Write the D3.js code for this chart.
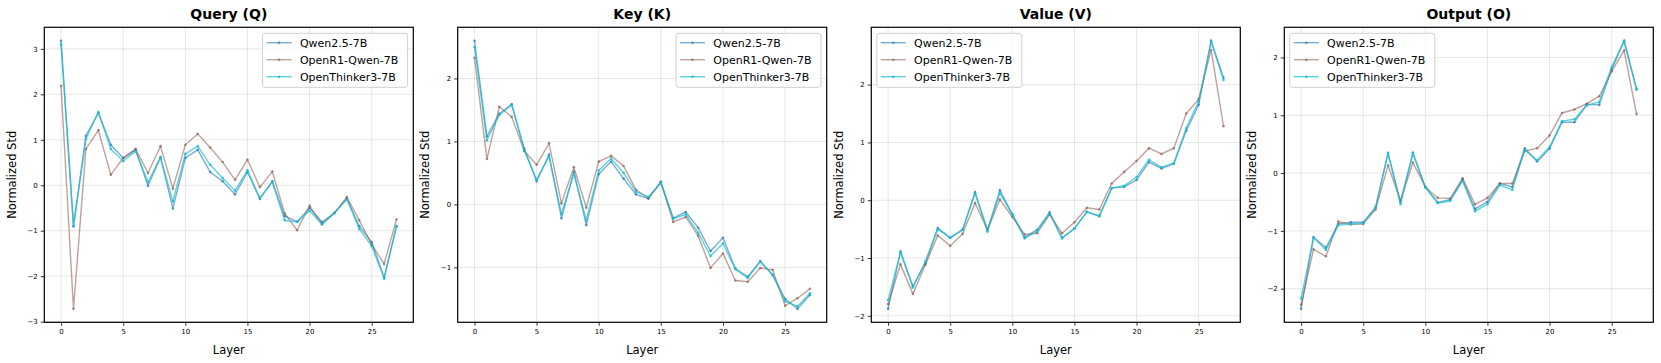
<!DOCTYPE html>
<html>
<head>
<meta charset="utf-8">
<script src="https://cdn.jsdelivr.net/npm/d3@7"></script>
<style>
  html, body { margin: 0; padding: 0; background: #fff; }
  svg { display: block; font-family: "DejaVu Sans", sans-serif; }
</style>
</head>
<body>
<div id="chart"></div>
<script>
// layer index 0..27
const layers = d3.range(28);

const seriesNames = ["Qwen2.5-7B", "OpenR1-Qwen-7B", "OpenThinker3-7B"];
const seriesColors = ["#1f77b4", "#8c564b", "#17becf"];
const seriesAlpha = [0.6, 0.55, 0.7];

const panelTitles = ["Query (Q)", "Key (K)", "Value (V)", "Output (O)"];
const legendSides = ["right", "right", "left", "left"];

// Query (Q)
const queryQwen = [3.18, -0.90, 1.09, 1.59, 0.89, 0.60, 0.78, -0.01, 0.61, -0.51, 0.60, 0.78, 0.29, 0.09, -0.20, 0.29, -0.30, 0.09, -0.68, -0.80, -0.50, -0.81, -0.61, -0.29, -0.90, -1.25, -2.03, -0.90];
const queryOpenR1 = [2.19, -2.72, 0.80, 1.21, 0.23, 0.60, 0.80, 0.27, 0.86, -0.07, 0.89, 1.13, 0.83, 0.51, 0.12, 0.56, -0.04, 0.30, -0.62, -0.99, -0.45, -0.86, -0.61, -0.26, -0.77, -1.30, -1.73, -0.75];
const queryThinker = [3.10, -0.90, 1.02, 1.61, 0.80, 0.53, 0.75, 0.07, 0.62, -0.35, 0.69, 0.86, 0.45, 0.16, -0.12, 0.33, -0.28, 0.07, -0.77, -0.81, -0.56, -0.86, -0.61, -0.31, -0.96, -1.34, -2.05, -0.90];

// Key (K)
const keyQwen = [2.60, 1.08, 1.44, 1.59, 0.89, 0.37, 0.79, -0.22, 0.52, -0.33, 0.48, 0.68, 0.41, 0.16, 0.09, 0.36, -0.22, -0.12, -0.37, -0.74, -0.53, -1.02, -1.15, -0.90, -1.12, -1.50, -1.66, -1.44];
const keyOpenR1 = [2.33, 0.72, 1.55, 1.39, 0.85, 0.63, 0.97, 0.02, 0.59, -0.05, 0.68, 0.77, 0.61, 0.23, 0.10, 0.35, -0.28, -0.20, -0.50, -1.01, -0.78, -1.21, -1.23, -1.01, -1.04, -1.61, -1.49, -1.34];
const keyThinker = [2.50, 1.02, 1.42, 1.58, 0.86, 0.39, 0.76, -0.15, 0.49, -0.25, 0.54, 0.73, 0.50, 0.20, 0.12, 0.34, -0.23, -0.16, -0.45, -0.82, -0.62, -1.03, -1.17, -0.91, -1.12, -1.54, -1.62, -1.41];

// Value (V)
const valueQwen = [-1.88, -0.89, -1.49, -1.09, -0.48, -0.65, -0.51, 0.14, -0.51, 0.17, -0.24, -0.64, -0.51, -0.21, -0.65, -0.49, -0.20, -0.27, 0.21, 0.23, 0.35, 0.66, 0.55, 0.63, 1.20, 1.65, 2.76, 2.12];
const valueOpenR1 = [-1.80, -1.11, -1.62, -1.12, -0.61, -0.79, -0.58, -0.05, -0.51, 0.01, -0.29, -0.59, -0.57, -0.25, -0.57, -0.38, -0.13, -0.16, 0.29, 0.49, 0.68, 0.90, 0.80, 0.90, 1.50, 1.75, 2.60, 1.28];
const valueThinker = [-1.73, -0.90, -1.51, -1.06, -0.50, -0.65, -0.51, 0.12, -0.54, 0.12, -0.25, -0.66, -0.54, -0.23, -0.66, -0.49, -0.20, -0.28, 0.21, 0.25, 0.40, 0.70, 0.57, 0.64, 1.25, 1.71, 2.74, 2.08];

// Output (O)
const outputQwen = [-2.35, -1.11, -1.29, -0.88, -0.85, -0.85, -0.59, 0.35, -0.50, 0.35, -0.24, -0.51, -0.46, -0.11, -0.62, -0.50, -0.18, -0.24, 0.43, 0.20, 0.42, 0.88, 0.88, 1.19, 1.18, 1.79, 2.29, 1.46];
const outputOpenR1 = [-2.28, -1.32, -1.44, -0.84, -0.89, -0.88, -0.63, 0.13, -0.48, 0.18, -0.24, -0.43, -0.44, -0.09, -0.54, -0.43, -0.18, -0.18, 0.38, 0.43, 0.65, 1.04, 1.10, 1.20, 1.33, 1.76, 2.12, 1.02];
const outputThinker = [-2.17, -1.12, -1.33, -0.90, -0.88, -0.87, -0.60, 0.34, -0.54, 0.34, -0.25, -0.52, -0.48, -0.14, -0.66, -0.54, -0.21, -0.29, 0.40, 0.22, 0.45, 0.90, 0.93, 1.17, 1.23, 1.84, 2.28, 1.44];

const panelData = [
  [queryQwen, queryOpenR1, queryThinker],
  [keyQwen, keyOpenR1, keyThinker],
  [valueQwen, valueOpenR1, valueThinker],
  [outputQwen, outputOpenR1, outputThinker]
];

const xTicks = [0, 5, 10, 15, 20, 25];

const W = 1661, H = 363;
const plotTop = 27.3, plotH = 295, plotW = 369;
const plotLefts = [44.3, 457.7, 871.3, 1284.3];

const svg = d3.select("#chart").append("svg")
  .attr("width", W)
  .attr("height", H);

const fmt = v => (v < 0 ? "\u2212" + Math.abs(v) : String(v));

panelData.forEach((series, p) => {
  const g = svg.append("g")
    .attr("transform", `translate(${plotLefts[p]},${plotTop})`);

  // matplotlib style 5% margins
  const all = series.flat();
  const lo = d3.min(all), hi = d3.max(all);
  const pad = (hi - lo) * 0.05;

  const x = d3.scaleLinear()
    .domain([-27 * 0.05, 27 * 1.05])
    .range([0, plotW]);

  const y = d3.scaleLinear()
    .domain([lo - pad, hi + pad])
    .range([plotH, 0]);

  const yTicks = d3.range(Math.ceil(lo - pad), Math.floor(hi + pad) + 1);

  // grid
  g.append("g").selectAll("line")
    .data(xTicks)
    .enter().append("line")
    .attr("x1", d => x(d)).attr("x2", d => x(d))
    .attr("y1", 0).attr("y2", plotH)
    .attr("stroke", "#b0b0b0").attr("stroke-opacity", 0.35).attr("stroke-width", 0.9);

  g.append("g").selectAll("line")
    .data(yTicks)
    .enter().append("line")
    .attr("x1", 0).attr("x2", plotW)
    .attr("y1", d => y(d)).attr("y2", d => y(d))
    .attr("stroke", "#b0b0b0").attr("stroke-opacity", 0.35).attr("stroke-width", 0.9);

  // lines + markers
  const line = d3.line()
    .x((d, i) => x(layers[i]))
    .y(d => y(d));

  series.forEach((vals, s) => {
    g.append("path")
      .datum(vals)
      .attr("fill", "none")
      .attr("stroke", seriesColors[s])
      .attr("stroke-opacity", seriesAlpha[s])
      .attr("stroke-width", 1.4)
      .attr("d", line);

    g.append("g").selectAll("circle")
      .data(vals)
      .enter().append("circle")
      .attr("cx", (d, i) => x(layers[i]))
      .attr("cy", d => y(d))
      .attr("r", 1.3)
      .attr("fill", seriesColors[s])
      .attr("fill-opacity", seriesAlpha[s] + 0.1);
  });

  // axes
  const xAxis = g.append("g")
    .attr("transform", `translate(0,${plotH})`)
    .call(d3.axisBottom(x).tickValues(xTicks).tickSize(3.5).tickPadding(3).tickFormat(fmt));
  const yAxis = g.append("g")
    .call(d3.axisLeft(y).tickValues(yTicks).tickSize(3.5).tickPadding(3).tickFormat(fmt));

  [xAxis, yAxis].forEach(a => {
    a.select(".domain").remove();
    a.selectAll("line").attr("stroke", "#000").attr("stroke-width", 0.8);
    a.selectAll("text")
      .style("font-family", "DejaVu Sans, sans-serif")
      .style("font-size", "7px")
      .attr("fill", "#000");
  });

  // frame
  g.append("rect")
    .attr("x", 0).attr("y", 0)
    .attr("width", plotW).attr("height", plotH)
    .attr("fill", "none")
    .attr("stroke", "#000")
    .attr("stroke-width", 1.2);

  // title
  g.append("text")
    .attr("x", plotW / 2)
    .attr("y", -8.5)
    .attr("text-anchor", "middle")
    .style("font-size", "14px")
    .style("font-weight", "bold")
    .text(panelTitles[p]);

  // axis labels
  g.append("text")
    .attr("x", plotW / 2)
    .attr("y", plotH + 31.5)
    .attr("text-anchor", "middle")
    .style("font-size", "11.5px")
    .text("Layer");

  g.append("text")
    .attr("transform", "rotate(-90)")
    .attr("x", -plotH / 2)
    .attr("y", -28.5)
    .attr("text-anchor", "middle")
    .style("font-size", "11.5px")
    .text("Normalized Std");

  // legend
  const legW = 145, legH = 54;
  const legX = legendSides[p] === "right" ? plotW - legW - 5.7 : 5.5;
  const leg = g.append("g").attr("transform", `translate(${legX},6)`);
  leg.append("rect")
    .attr("width", legW).attr("height", legH)
    .attr("rx", 2.5)
    .attr("fill", "#fff").attr("fill-opacity", 0.8)
    .attr("stroke", "#d0d0d0").attr("stroke-width", 1);

  seriesNames.forEach((name, s) => {
    const ry = 9.4 + s * 17;
    leg.append("line")
      .attr("x1", 4).attr("x2", 29)
      .attr("y1", ry).attr("y2", ry)
      .attr("stroke", seriesColors[s])
      .attr("stroke-opacity", seriesAlpha[s])
      .attr("stroke-width", 1.4);
    leg.append("circle")
      .attr("cx", 16.5).attr("cy", ry).attr("r", 1.3)
      .attr("fill", seriesColors[s]).attr("fill-opacity", seriesAlpha[s] + 0.1);
    leg.append("text")
      .attr("x", 37.3)
      .attr("y", ry + 4)
      .style("font-size", "11px")
      .text(name);
  });
});
</script>
</body>
</html>
